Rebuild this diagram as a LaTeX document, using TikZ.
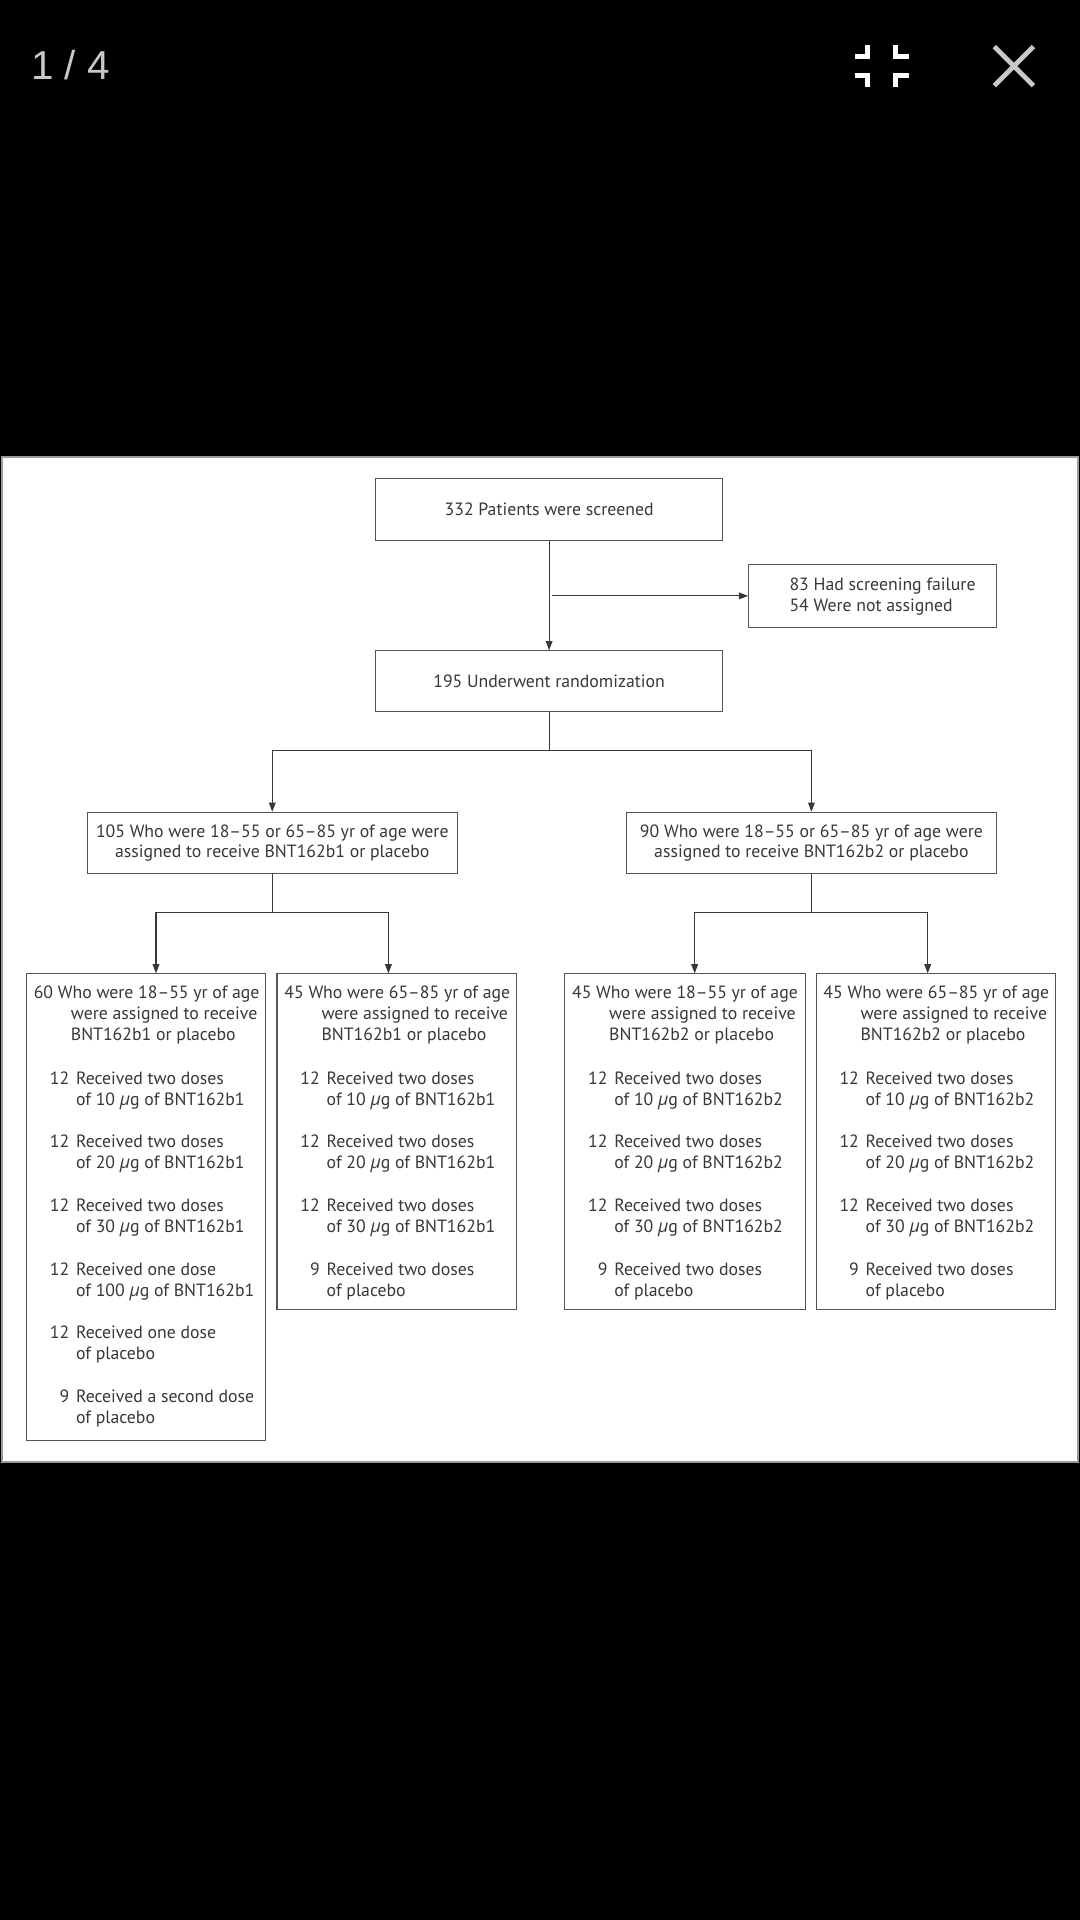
\documentclass[tikz,border=0pt]{standalone}
\usepackage{fontspec}
\setmainfont{PT Sans}
\newfontfamily\barfont{Liberation Sans}
\newfontfamily\gkfont{Open Sans}
\newcommand{\mug}{{\gkfont\itshape μ}g}
\usetikzlibrary{arrows.meta}
\definecolor{ink}{HTML}{383838}
\definecolor{edge}{HTML}{555555}
\definecolor{barcol}{HTML}{C8C8C8}
\definecolor{panelrule}{HTML}{9A9A9A}
\tikzset{
  box/.style={draw=edge, line width=0.9pt, inner sep=0pt, anchor=north west, fill=white},
  boxtxt/.style={font=\fontsize{14.5}{16.8}\selectfont, text=ink, align=center},
  txt/.style={font=\fontsize{14.5}{17.3}\selectfont, text=ink, inner sep=0pt},
  link/.style={draw=ink, line width=0.9pt},
  arr/.style={link, -{Triangle[length=7.5pt,width=5.5pt]}},
  icon/.style={draw=white, line width=4.1pt, line join=miter, line cap=butt},
}
\newcommand{\hdr}[5]{%
  \node[txt,anchor=base west] (#1a) at (#2+6.3,815.3) {#3};
  \node[txt,anchor=base west] (#1b) at (#2+36.6,832.6) {#4};
  \node[txt,anchor=base west] (#1c) at (#2+36.6,849.9) {#5};}
\newcommand{\dose}[6]{%
  \node[txt,anchor=base east] (#1a) at (#2+35.6,#3) {#4};
  \node[txt,anchor=base west] (#1b) at (#2+40.8,#3) {#5};
  \node[txt,anchor=base west] (#1c) at (#2+40.8,#3+17.3) {#6};}
\begin{document}
\begin{tikzpicture}[x=1pt,y=-1pt]
\useasboundingbox (0,0) rectangle (882,1568);
\fill[black] (0,0) rectangle (882,1568);
% top bar
\node[font=\barfont\fontsize{33}{36}\selectfont, text=barcol, inner sep=0pt] (pagenum) at (57.5,53) {1 / 4};
\draw[icon] (698,46.1) -- (708.5,46.1) -- (708.5,36.7);
\draw[icon] (742,46.1) -- (731.5,46.1) -- (731.5,36.7);
\draw[icon] (698,61.9) -- (708.5,61.9) -- (708.5,71.3);
\draw[icon] (742,61.9) -- (731.5,61.9) -- (731.5,71.3);
\draw[draw=barcol, line width=4pt] (812,38) -- (844,70);
\draw[draw=barcol, line width=4pt] (812,70) -- (844,38);
% panel
\draw[draw=panelrule, line width=1.3pt, fill=white] (1.5,373) rectangle (880.5,1194);
% top boxes
\node[box, boxtxt, minimum width=283pt, minimum height=50.4pt] (screened) at (306.5,390.6) {332 Patients were screened};
\node[box, minimum width=202.4pt, minimum height=51.2pt] (excl) at (611,460.6) {};
\node[txt, anchor=base west] (excla) at (644.6,482.5) {83 Had screening failure};
\node[txt, anchor=base west] (exclb) at (644.6,499.6) {54 Were not assigned};
\node[box, boxtxt, minimum width=283pt, minimum height=49.5pt] (rand) at (306.5,531) {195 Underwent randomization};
\node[box, boxtxt, minimum width=302pt, minimum height=50.3pt] (b1) at (70.9,662.9) {105 Who were 18--55 or 65--85 yr of age were\\assigned to receive BNT162b1 or placebo};
\node[box, boxtxt, minimum width=301.8pt, minimum height=50.3pt] (b2) at (511.3,662.9) {90 Who were 18--55 or 65--85 yr of age were\\assigned to receive BNT162b2 or placebo};
% bottom boxes
\node[box, minimum width=195.4pt, minimum height=381.1pt] (g1) at (21.1,794.9) {};
\node[box, minimum width=195.5pt, minimum height=274.4pt] (g2) at (225.8,794.9) {};
\node[box, minimum width=196.6pt, minimum height=274.4pt] (g3) at (460.7,794.9) {};
\node[box, minimum width=195.7pt, minimum height=274.4pt] (g4) at (666,794.9) {};
% box g1
\hdr{g1h}{21.1}{60 Who were 18--55 yr of age}{were assigned to receive}{BNT162b1 or placebo}
\dose{g1d1}{21.1}{885.3}{12}{Received two doses}{of 10 \mug\ of BNT162b1}
\dose{g1d2}{21.1}{937.3}{12}{Received two doses}{of 20 \mug\ of BNT162b1}
\dose{g1d3}{21.1}{989.3}{12}{Received two doses}{of 30 \mug\ of BNT162b1}
\dose{g1d4}{21.1}{1041.3}{12}{Received one dose}{of 100 \mug\ of BNT162b1}
\dose{g1d5}{21.1}{1093.3}{12}{Received one dose}{of placebo}
\dose{g1d6}{21.1}{1145.6}{9}{Received a second dose}{of placebo}
% box g2
\hdr{g2h}{225.8}{45 Who were 65--85 yr of age}{were assigned to receive}{BNT162b1 or placebo}
\dose{g2d1}{225.8}{885.3}{12}{Received two doses}{of 10 \mug\ of BNT162b1}
\dose{g2d2}{225.8}{937.3}{12}{Received two doses}{of 20 \mug\ of BNT162b1}
\dose{g2d3}{225.8}{989.3}{12}{Received two doses}{of 30 \mug\ of BNT162b1}
\dose{g2d4}{225.8}{1041.3}{9}{Received two doses}{of placebo}
% box g3
\hdr{g3h}{460.7}{45 Who were 18--55 yr of age}{were assigned to receive}{BNT162b2 or placebo}
\dose{g3d1}{460.7}{885.3}{12}{Received two doses}{of 10 \mug\ of BNT162b2}
\dose{g3d2}{460.7}{937.3}{12}{Received two doses}{of 20 \mug\ of BNT162b2}
\dose{g3d3}{460.7}{989.3}{12}{Received two doses}{of 30 \mug\ of BNT162b2}
\dose{g3d4}{460.7}{1041.3}{9}{Received two doses}{of placebo}
% box g4
\hdr{g4h}{666}{45 Who were 65--85 yr of age}{were assigned to receive}{BNT162b2 or placebo}
\dose{g4d1}{666}{885.3}{12}{Received two doses}{of 10 \mug\ of BNT162b2}
\dose{g4d2}{666}{937.3}{12}{Received two doses}{of 20 \mug\ of BNT162b2}
\dose{g4d3}{666}{989.3}{12}{Received two doses}{of 30 \mug\ of BNT162b2}
\dose{g4d4}{666}{1041.3}{9}{Received two doses}{of placebo}
% connectors
\draw[arr] (screened) -- (rand);
\draw[arr] ([xshift=2pt]screened.south |- excl.west) -- (excl.west);
\coordinate (fk) at (448,613);
\draw[arr] (rand.south) -- (rand.south |- fk) -| (b1.north);
\draw[arr] (rand.south |- fk) -| (b2.north);
\coordinate (p1) at (127.4,745.3);
\coordinate (p2) at (317.2,745.3);
\coordinate (p3) at (567.3,745.3);
\coordinate (p4) at (757.6,745.3);
\draw[arr] (b1.south) -- (b1.south |- p1) -| (p1 |- g1.north);
\draw[arr] (b1.south |- p2) -| (p2 |- g2.north);
\draw[arr] (b2.south) -- (b2.south |- p3) -| (p3 |- g3.north);
\draw[arr] (b2.south |- p4) -| (p4 |- g4.north);
\end{tikzpicture}
\end{document}
